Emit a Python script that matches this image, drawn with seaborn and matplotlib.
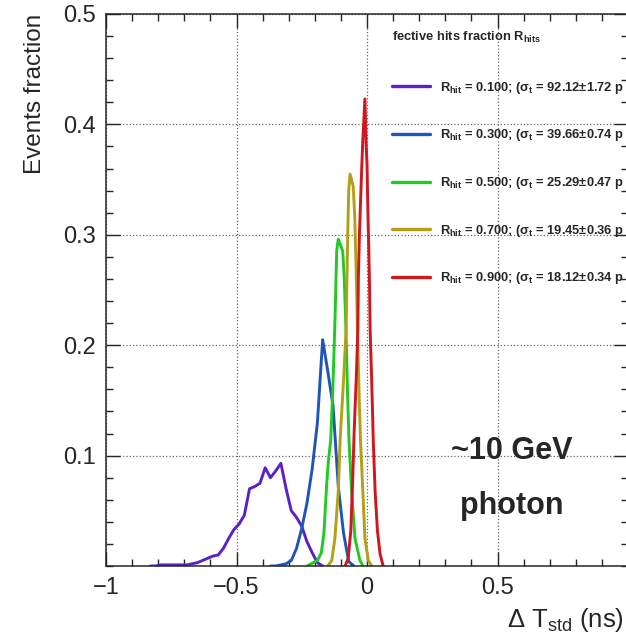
import pandas as pd
import seaborn as sns
import matplotlib.pyplot as plt
from matplotlib.ticker import MultipleLocator, FuncFormatter

# Delta T_std (ns) vs events fraction, one curve per hit fraction R_hit
r010_t = [-0.83, -0.81, -0.79, -0.77, -0.75, -0.73, -0.71, -0.69, -0.67, -0.65, -0.63, -0.61,
          -0.59, -0.57, -0.55, -0.53, -0.51, -0.49, -0.47, -0.45, -0.43, -0.41, -0.39, -0.37,
          -0.35, -0.33, -0.31, -0.29, -0.27, -0.25, -0.23, -0.21, -0.19, -0.17]
r010_f = [0.000, 0.000, 0.001, 0.001, 0.001, 0.001, 0.001, 0.001, 0.002, 0.003, 0.005, 0.007,
          0.009, 0.010, 0.016, 0.025, 0.033, 0.038, 0.046, 0.070, 0.072, 0.075, 0.089, 0.080,
          0.086, 0.093, 0.070, 0.050, 0.044, 0.036, 0.022, 0.012, 0.003, 0.000]

r030_t = [-0.37, -0.35, -0.33, -0.31, -0.29, -0.27, -0.25, -0.23, -0.21, -0.19, -0.17, -0.15,
          -0.13, -0.11, -0.09, -0.07, -0.05]
r030_f = [0.000, 0.000, 0.001, 0.002, 0.005, 0.016, 0.034, 0.057, 0.088, 0.130, 0.205, 0.176,
          0.145, 0.072, 0.030, 0.004, 0.000]

r050_t = [-0.23, -0.19, -0.175, -0.165, -0.155, -0.148, -0.139, -0.131, -0.123, -0.116, -0.11,
          -0.10, -0.093, -0.087, -0.08, -0.075, -0.069, -0.059, -0.046, -0.027, -0.015]
r050_f = [0.000, 0.005, 0.012, 0.030, 0.072, 0.095, 0.114, 0.160, 0.220, 0.286, 0.296,
          0.290, 0.285, 0.260, 0.210, 0.160, 0.114, 0.068, 0.025, 0.005, 0.000]

r070_t = [-0.15, -0.135, -0.123, -0.11, -0.103, -0.09, -0.08, -0.074, -0.07, -0.065, -0.053,
          -0.047, -0.041, -0.036, -0.03, -0.025, -0.016, -0.008, 0.005, 0.018]
r070_f = [0.000, 0.005, 0.025, 0.068, 0.114, 0.168, 0.214, 0.300, 0.340, 0.355, 0.344,
          0.317, 0.262, 0.210, 0.153, 0.114, 0.068, 0.025, 0.005, 0.000]

r090_t = [-0.084, -0.072, -0.062, -0.055, -0.049, -0.04, -0.035, -0.033, -0.029, -0.024, -0.02,
          -0.016, -0.008, -0.003, 0.0, 0.003, 0.007, 0.010, 0.012, 0.018, 0.024, 0.031, 0.04,
          0.05, 0.062]
r090_f = [0.000, 0.007, 0.032, 0.077, 0.123, 0.177, 0.215, 0.262, 0.300, 0.335, 0.362,
          0.386, 0.423, 0.380, 0.365, 0.326, 0.286, 0.250, 0.214, 0.168, 0.114, 0.068, 0.032,
          0.011, 0.000]

rhit = ["0.100", "0.300", "0.500", "0.700", "0.900"]
sigma = ["92.12±1.72", "39.66±0.74", "25.29±0.47", "19.45±0.36", "18.12±0.34"]
colors = ["#5a22c4", "#1f56b5", "#22c922", "#b59f17", "#d0161f"]

curves = [(r010_t, r010_f), (r030_t, r030_f), (r050_t, r050_f), (r070_t, r070_f), (r090_t, r090_f)]
df = pd.concat([pd.DataFrame({"dt": t, "frac": f, "rhit": r})
                for r, (t, f) in zip(rhit, curves)], ignore_index=True)

sns.set_style("ticks")
plt.rcParams["font.family"] = ["Liberation Sans", "DejaVu Sans"]
plt.rcParams["mathtext.fontset"] = "custom"
plt.rcParams["mathtext.rm"] = "Liberation Sans"
plt.rcParams["mathtext.it"] = "Liberation Sans:italic"
plt.rcParams["mathtext.bf"] = "Liberation Sans:bold"

fig = plt.figure(figsize=(6.26, 6.33), dpi=100)
ax = fig.add_axes([106 / 626, 67 / 633, 522 / 626, 552 / 633])

sns.lineplot(data=df, x="dt", y="frac", hue="rhit", palette=colors, sort=False,
             estimator=None, linewidth=2.1, legend=False, ax=ax)

ax.set_xlim(-1, 1)
ax.set_ylim(0, 0.5)
ax.set_xticks([-1, -0.5, 0, 0.5])
ax.set_yticks([0.1, 0.2, 0.3, 0.4, 0.5])
ax.xaxis.set_major_formatter(FuncFormatter(lambda v, pos: f"{v:g}".replace("-", "\u2212")))
ax.xaxis.set_minor_locator(MultipleLocator(0.1))
ax.yaxis.set_minor_locator(MultipleLocator(0.02))
ax.tick_params(which="both", direction="in", top=True, right=True, labelsize=17, width=1)
ax.tick_params(which="major", length=10)
ax.tick_params(which="minor", length=5)
ax.tick_params(axis="y", pad=7)
ax.tick_params(axis="x", pad=8)
for s in ax.spines.values():
    s.set_linewidth(1.1)
ax.set_axisbelow(True)
ax.grid(True, which="major", linestyle=":", color="#666666", linewidth=0.9)

ax.set_ylabel("Events fraction", fontsize=17.5, loc="top")
ax.yaxis.set_label_coords(-0.115, 1.0)
ax.set_xlabel(r"$\Delta$ T$_{\rm std}$ (ns)", fontsize=18.5, loc="right")
ax.xaxis.set_label_coords(0.992, -0.072)

labels = [rf"R$_{{\mathbf{{hit}}}}$ = {r}; (σ$_{{\mathbf{{t}}}}$ = {s} p" for r, s in zip(rhit, sigma)]
leg = ax.legend(ax.lines[:5], labels, loc="upper left",
                bbox_to_anchor=(392 / 626, 1 - 30 / 633), bbox_transform=fig.transFigure,
                title=r"fective hits fraction R$_{\mathbf{hits}}$", alignment="left",
                frameon=False, borderpad=0, borderaxespad=0, labelspacing=2.45,
                handlelength=2.95, handletextpad=0.75,
                prop={"size": 9.3, "weight": "bold"},
                title_fontproperties={"size": 9.3, "weight": "bold"})
leg._legend_box.sep = 25
for line in leg.get_lines():
    line.set_linewidth(2.4)

ax.text(0.554, 0.0973, "~10 GeV", ha="center", va="baseline", fontsize=22, fontweight="bold")
ax.text(0.556, 0.0473, "photon", ha="center", va="baseline", fontsize=22, fontweight="bold")

fig.savefig("out.png", dpi=100)
